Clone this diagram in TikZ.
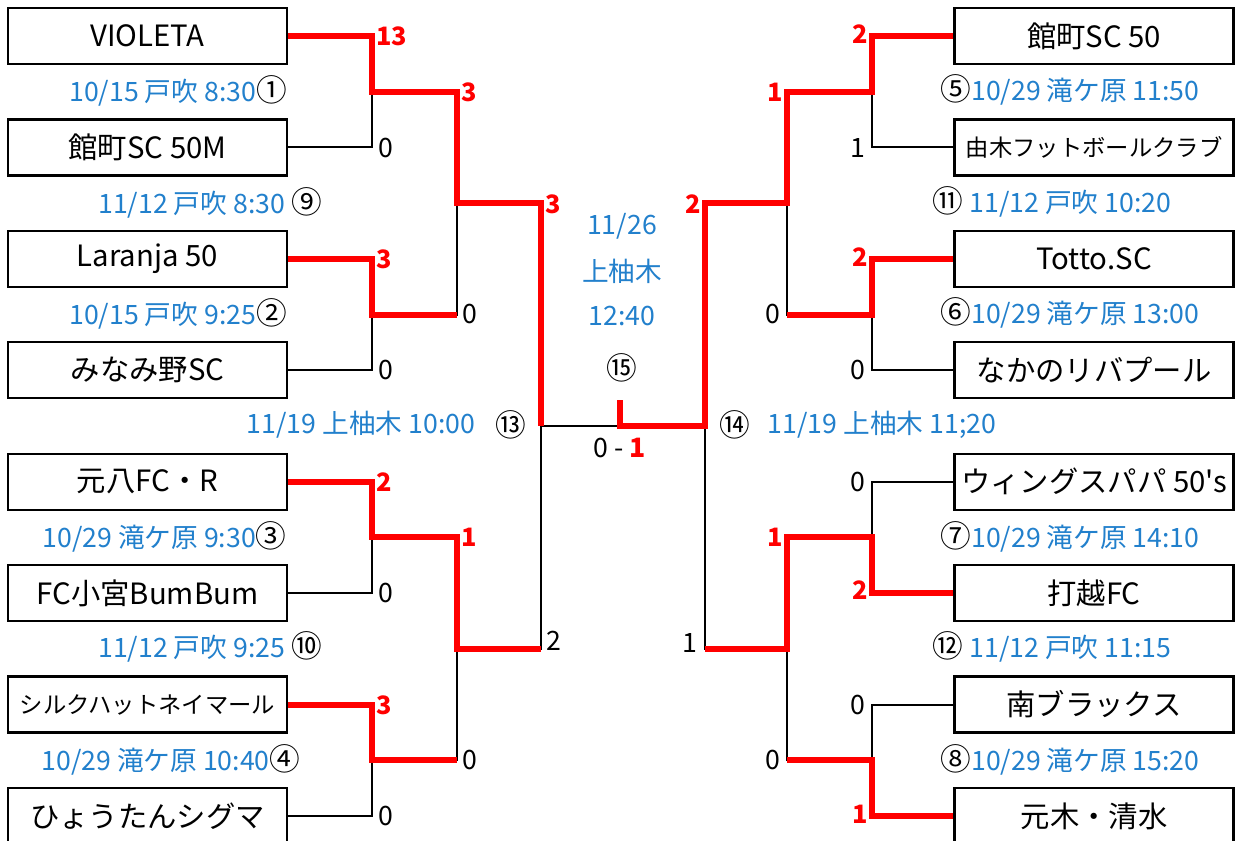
\documentclass[tikz,border=0pt]{standalone}
\usepackage{fontspec}
\setmainfont{Noto Sans CJK JP}
\newfontfamily\rawfont{Noto Sans CJK JP}
\usetikzlibrary{positioning}

\definecolor{datecol}{RGB}{34,128,204}
\definecolor{wincol}{RGB}{255,0,0}
\def\smallteam{\fontsize{17.5}{20}\selectfont}
\newcommand\gno[1]{\textcolor{black}{\fontsize{23}{24}\selectfont#1}}

\tikzset{
  team/.style={draw, line width=1.8pt, minimum width=209pt, minimum height=42pt,
               inner sep=0pt, font=\fontsize{22}{24}\selectfont},
  win/.style={draw=wincol, line width=4.5pt},
  lose/.style={draw=black, line width=1.5pt},
  date/.style={text=datecol, inner sep=0pt, font=\fontsize{20}{22}\selectfont},
  wsc/.style={text=wincol, inner sep=0pt, font=\fontsize{19}{22}\selectfont\bfseries},
  lsc/.style={inner sep=0pt, font=\fontsize{20}{22}\selectfont},
}

\begin{document}
\begin{tikzpicture}[x=0.75pt, y=-0.75pt]
\pgfmathsetmacro{\dy}{111.43}
\useasboundingbox (0,0) rectangle (1235,841);

% teams
\foreach \name [count=\k, evaluate={\yy=36+(\k-1)*\dy;}] in
    {VIOLETA, 館町SC 50M, Laranja 50, みなみ野SC, 元八FC・R, FC小宮BumBum,
     {\smallteam シルクハットネイマール}, ひょうたんシグマ}
  \node[team] (L\k) at (147.5,\yy) {\name};
\foreach \name [count=\k, evaluate={\yy=36+(\k-1)*\dy;}] in
    {館町SC 50, {\smallteam 由木フットボールクラブ}, Totto.SC, なかのリバプール,
     {\rawfont ウィングスパパ 50's}, 打越FC, 南ブラックス, 元木・清水}
  \node[team] (R\k) at (1094,\yy) {\name};

% junctions
\foreach \j [evaluate={\yy=36+(2*\j-1.5)*\dy;}] in {1,...,4}{
  \coordinate (jL\j) at (372,\yy);
  \coordinate (jR\j) at (872,\yy);
}
\foreach \j [evaluate={\yy=36+(4*\j-2.5)*\dy;}] in {1,2}{
  \coordinate (kL\j) at (457,\yy);
  \coordinate (kR\j) at (787,\yy);
}
\coordinate (mL) at (541,{36+3.5*\dy});
\coordinate (mR) at (705,{36+3.5*\dy});
\coordinate (fin) at (620,{36+3.5*\dy});
\coordinate (finTop) at (620,400);

% whole tree
\draw[lose] (L2.east) -| (jL1);
\draw[lose] (L4.east) -| (jL2) -| (kL1);
\draw[lose] (L6.east) -| (jL3);
\draw[lose] (L8.east) -| (jL4) -| (kL2) -| (mL) -- (fin);
\draw[lose] (R2.west) -| (jR1);
\draw[lose] (R4.west) -| (jR2) -| (kR1);
\draw[lose] (R5.west) -| (jR3);
\draw[lose] (R7.west) -| (jR4) -| (kR2) -| (mR);

% winners
\draw[win] (L1.east) -| (jL1) -| (kL1) -| (mL);
\draw[win] (L3.east) -| (jL2) -- (jL2 -| kL1);
\draw[win] (L5.east) -| (jL3) -| (kL2) -- (kL2 -| mL);
\draw[win] (L7.east) -| (jL4) -- (jL4 -| kL2);
\draw[win] (R1.west) -| (jR1) -| (kR1) -| (mR) -- (fin) -- (finTop);
\draw[win] (R3.west) -| (jR2) -- (jR2 -| kR1);
\draw[win] (R6.west) -| (jR3) -| (kR2) -- (kR2 -| mR);
\draw[win] (R8.west) -| (jR4) -- (jR4 -| kR2);

% scores
\foreach \px/\py/\txt [count=\k] in {376/36/13, 376/259/3, 376/482/2, 376/705/3,
                                     461/92/3, 461/537/1, 545/204/3}
  \node[wsc, anchor=west] (lw\k) at (\px,\py) {\txt};
\foreach \px/\py/\txt [count=\k] in {378/148/0, 378/370/0, 378/593/0, 378/816/0,
                                     462/314/0, 462/760/0, 546/641/2}
  \node[lsc, anchor=west] (ll\k) at (\px,\py) {\txt};
\foreach \px/\py/\txt [count=\k] in {868/34/2, 868/257/2, 868/590/2, 868/814/1,
                                     783/92/1, 783/537/1, 701/204/2}
  \node[wsc, anchor=east] (rw\k) at (\px,\py) {\txt};
\foreach \px/\py/\txt [count=\k] in {866/148/1, 866/370/0, 866/482/0, 866/705/0,
                                     781/314/0, 781/760/0, 698/643/1}
  \node[lsc, anchor=east] (rl\k) at (\px,\py) {\txt};

% dates
\node[date] (d1) at (178,91) {10/15 戸吹 8:30\gno{①}};
\node[date] (d9) at (210,203) {11/12 戸吹 8:30 \gno{⑨}};
\node[date] (d2) at (178,314) {10/15 戸吹 9:25\gno{②}};
\node[date] (d13) at (361,425) {11/19 上柚木 10:00};
\node[lsc] (n13) at (511,425) {\gno{⑬}};
\node[date] (d3) at (164.5,537) {10/29 滝ケ原 9:30\gno{③}};
\node[date] (d10) at (210,647) {11/12 戸吹 9:25 \gno{⑩}};
\node[date] (d4) at (171,760) {10/29 滝ケ原 10:40\gno{④}};
\node[date] (d5) at (1070,90) {\gno{⑤}10/29 滝ケ原 11:50};
\node[date] (d11) at (1052,202) {\gno{⑪} 11/12 戸吹 10:20};
\node[date] (d6) at (1070,313) {\gno{⑥}10/29 滝ケ原 13:00};
\node[lsc] (n14) at (735,425) {\gno{⑭}};
\node[date] (d14) at (882,425) {11/19 上柚木 11;20};
\node[date] (d7) at (1070,537) {\gno{⑦}10/29 滝ケ原 14:10};
\node[date] (d12) at (1052,647) {\gno{⑫} 11/12 戸吹 11:15};
\node[date] (d8) at (1070,760) {\gno{⑧}10/29 滝ケ原 15:20};

% final
\node[date] (fday) at (622,226) {11/26};
\node[date] (fplace) at (622,271) {上柚木};
\node[date] (ftime) at (622,316) {12:40};
\node[lsc] (n15) at (622,368) {\gno{⑮}};
\node[lsc] (fscore) at (620,448) {0 - \textcolor{wincol}{\bfseries 1}};
\end{tikzpicture}
\end{document}
